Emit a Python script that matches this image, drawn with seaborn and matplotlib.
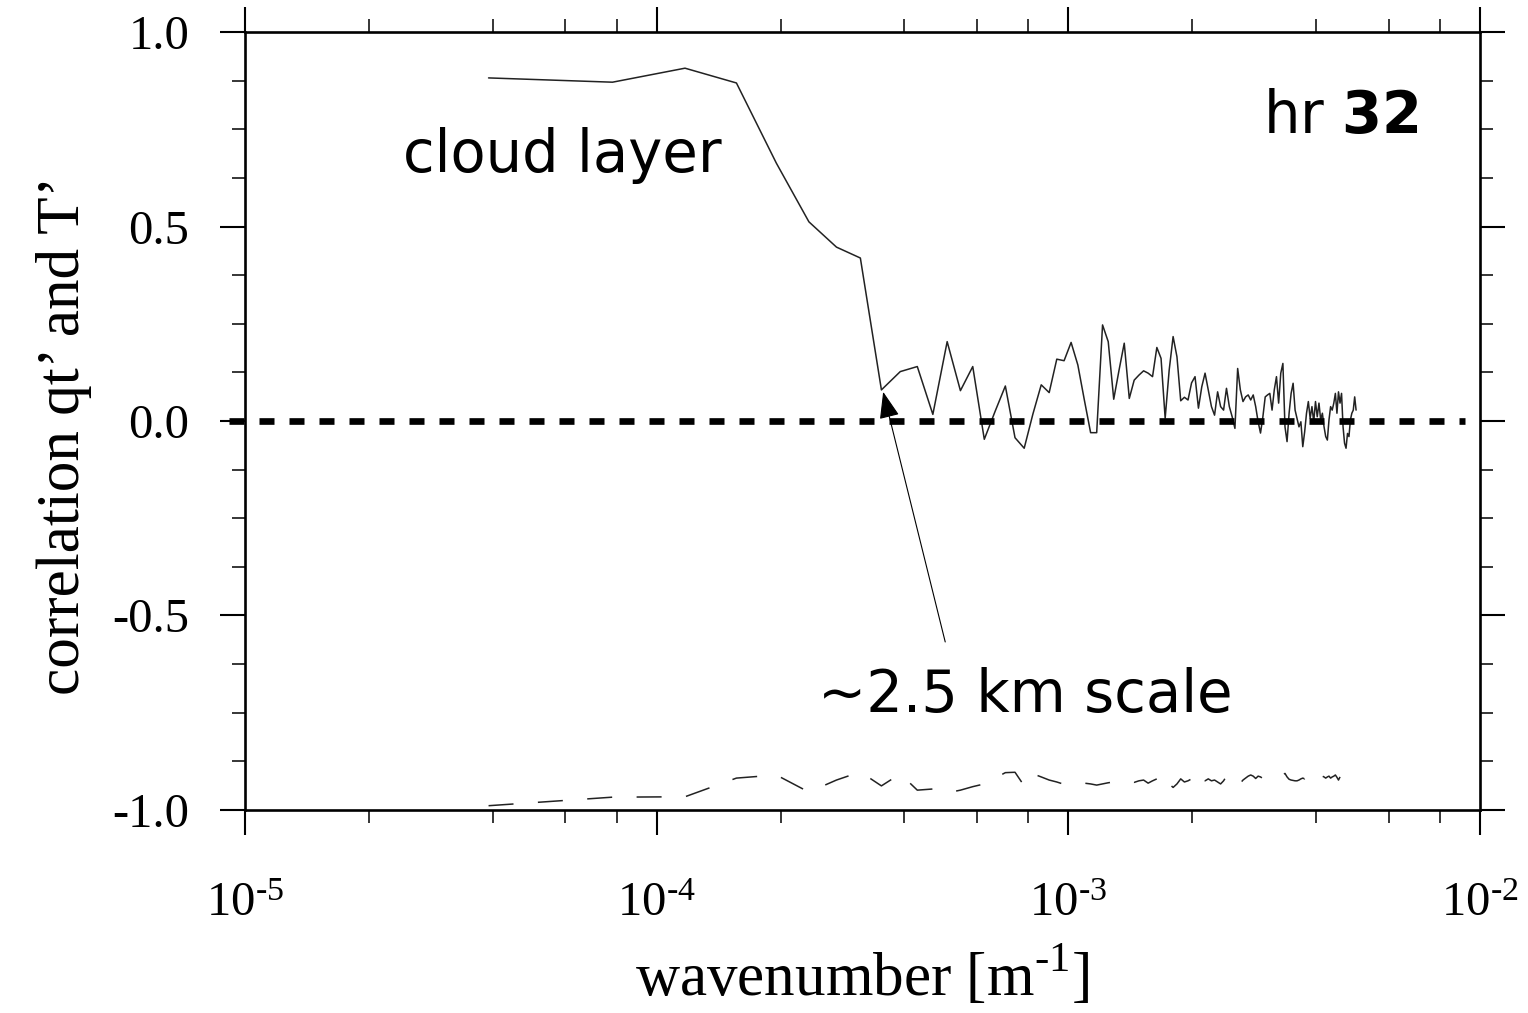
import numpy as np
import pandas as pd
import seaborn as sns
import matplotlib
matplotlib.use("Agg")
import matplotlib.pyplot as plt
from matplotlib.ticker import LogLocator, MultipleLocator, FuncFormatter, NullFormatter

# wavenumber grid: n / L with L = 25.6 km domain, n = 1..128
domain_length = 25600.0
wave_index = np.arange(1, 129)
wavenumber = wave_index / domain_length

# correlation of qt' and T' in the cloud layer (solid line)
cloud_corr = [
    0.882, 0.871, 0.907, 0.869, 0.663, 0.512, 0.447, 0.419, 0.080, 0.127,
    0.140, 0.017, 0.204, 0.078, 0.140, -0.047, 0.025, 0.090, -0.043, -0.070,
    0.018, 0.093, 0.073, 0.159, 0.155, 0.202, 0.144, 0.054, -0.030, -0.030,
    0.247, 0.204, 0.056, 0.131, 0.200, 0.058, 0.105, 0.118, 0.129, 0.123,
    0.114, 0.189, 0.161, 0.007, 0.131, 0.217, 0.165, 0.052, 0.061, 0.054,
    0.098, 0.114, 0.033, 0.088, 0.123, 0.080, 0.037, 0.015, 0.075, 0.037,
    0.028, 0.084, 0.037, 0.011, -0.019, 0.135, 0.080, 0.050, 0.062, 0.067,
    0.054, 0.067, 0.037, -0.002, -0.031, 0.011, 0.062, 0.067, 0.071, 0.028,
    0.080, 0.114, 0.046, 0.123, 0.148, -0.015, -0.053, 0.020, 0.071, 0.097,
    0.028, 0.007, -0.015, -0.002, -0.066, -0.028, 0.020, 0.050, 0.007, 0.037,
    -0.002, 0.050, 0.011, 0.046, 0.003, 0.020, -0.015, -0.040, -0.049, 0.003,
    0.037, 0.028, 0.046, 0.071, 0.020, 0.075, 0.046, 0.071, -0.015, -0.057,
    -0.070, -0.032, -0.040, 0.003, 0.020, 0.028, 0.062, 0.028,
]

# subcloud layer (thin dashed line near -0.9)
subcloud_corr = [
    -0.989, -0.967, -0.966, -0.918, -0.910, -0.954, -0.923, -0.902, -0.938, -0.907,
    -0.949, -0.946, -0.956, -0.949, -0.940, -0.933, -0.918, -0.904, -0.903, -0.938,
    -0.907, -0.915, -0.923, -0.928, -0.934, -0.936, -0.933, -0.931, -0.933, -0.936,
    -0.933, -0.930, -0.928, -0.925, -0.925, -0.925, -0.929, -0.925, -0.923, -0.931,
    -0.925, -0.920, -0.913, -0.906, -0.933, -0.942, -0.933, -0.920, -0.928, -0.925,
    -0.920, -0.910, -0.919, -0.907, -0.925, -0.920, -0.925, -0.923, -0.928, -0.933,
    -0.925, -0.913, -0.907, -0.910, -0.920, -0.931, -0.931, -0.923, -0.918, -0.913,
    -0.910, -0.913, -0.919, -0.913, -0.915, -0.919, -0.916, -0.915, -0.918, -0.920,
    -0.918, -0.915, -0.915, -0.915, -0.910, -0.906, -0.915, -0.921, -0.923, -0.924,
    -0.925, -0.925, -0.923, -0.920, -0.918, -0.920, -0.915, -0.913, -0.915, -0.913,
    -0.907, -0.915, -0.912, -0.910, -0.916, -0.913, -0.915, -0.918, -0.915, -0.913,
    -0.918, -0.915, -0.913, -0.910, -0.916, -0.923, -0.915, -0.906, -0.910, -0.916,
    -0.915, -0.913, -0.918, -0.915, -0.913, -0.918, -0.915, -0.913,
]

df = pd.DataFrame({"k": wavenumber, "cloud": cloud_corr, "subcloud": subcloud_corr})

sns.set_style("ticks")
plt.rcParams["font.family"] = ["Liberation Serif", "DejaVu Sans"]
plt.rcParams["mathtext.fontset"] = "dejavusans"
plt.rcParams["axes.unicode_minus"] = False
plt.rcParams["lines.scale_dashes"] = False
for key in ["text.color", "axes.labelcolor", "xtick.color", "ytick.color", "axes.edgecolor"]:
    plt.rcParams[key] = "black"

fig = plt.figure(figsize=(15.28, 10.13), dpi=100)
ax = fig.add_axes([0.1603, 0.2004, 0.8083, 0.7680])

sns.lineplot(data=df, x="k", y="cloud", ax=ax, color="#222222", linewidth=1.1)
sns.lineplot(data=df, x="k", y="subcloud", ax=ax, color="#222222", linewidth=1.1,
             linestyle=(0, (18, 17.6)))

# zero reference line, thick dashes
ax.axhline(0.0, xmin=-0.013, xmax=0.988, color="black", linewidth=4.8,
           linestyle=(0, (10.8, 10.8)), clip_on=False, zorder=3)

ax.set_xscale("log")
ax.set_xlim(1e-5, 1e-2)
ax.set_ylim(-1.0, 1.0)

HYPHEN = "\u2010"
ax.xaxis.set_major_locator(LogLocator(base=10, numticks=10))
ax.xaxis.set_minor_locator(LogLocator(base=10, subs=(2, 4, 6, 8), numticks=20))
ax.xaxis.set_major_formatter(FuncFormatter(
    lambda v, p: r"$\mathregular{10^{%s%d}}$" % (HYPHEN, abs(round(np.log10(v))))))
ax.xaxis.set_minor_formatter(NullFormatter())
ax.yaxis.set_major_locator(MultipleLocator(0.5))
ax.yaxis.set_minor_locator(MultipleLocator(0.125))
ax.yaxis.set_major_formatter(FuncFormatter(lambda v, p: "%.1f" % v))

for s in ax.spines.values():
    s.set_linewidth(1.9)
    s.set_visible(True)

ax.tick_params(which="both", direction="out", top=True, right=True)
ax.tick_params(which="major", length=18, width=1.5, labelsize=35)
ax.tick_params(which="minor", length=9.5, width=1.1)
ax.tick_params(axis="x", which="major", pad=34)
ax.tick_params(axis="y", which="major", pad=22)

ax.set_xlabel(r"wavenumber [m$^{\mathregular{%s1}}$]" % HYPHEN, fontsize=44)
ax.set_ylabel("correlation qt\u2019 and T\u2019", fontsize=44)
ax.xaxis.set_label_coords(0.5, -0.175)
ax.yaxis.set_label_coords(-0.124, 0.482)

ax.text(0.128, 0.820, "cloud layer", transform=ax.transAxes, family="DejaVu Sans",
        fontsize=41.5, ha="left", va="baseline")
ax.text(0.950, 0.870, r"hr $\mathbf{32}$", transform=ax.transAxes, family="DejaVu Sans",
        fontsize=41.5, ha="right", va="baseline")
ax.text(0.464, 0.126, "~2.5 km scale", transform=ax.transAxes, family="DejaVu Sans",
        fontsize=41.5, ha="left", va="baseline")
ax.annotate("", xy=(3.55e-4, 0.075), xycoords="data",
            xytext=(0.567, 0.216), textcoords="axes fraction",
            arrowprops=dict(arrowstyle="-|>,head_length=1.2,head_width=0.45",
                            mutation_scale=14, color="black", lw=0.8,
                            shrinkA=0, shrinkB=0))

fig.savefig("out.png", dpi=100)
